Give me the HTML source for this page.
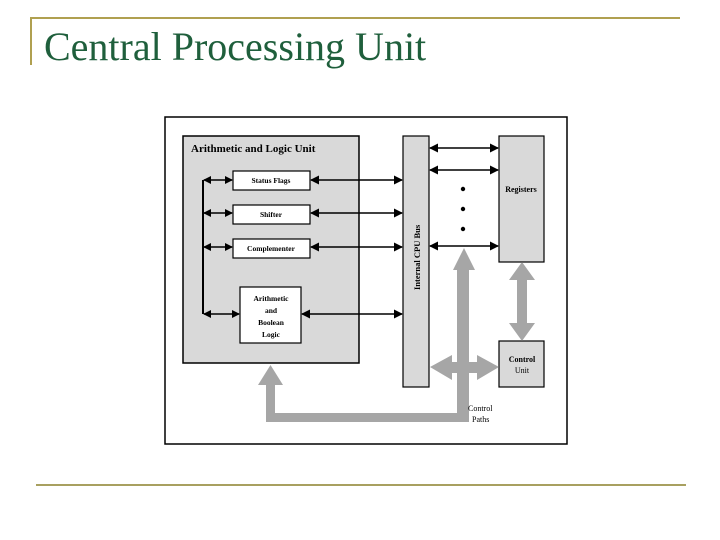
<!DOCTYPE html>
<html><head><style>
body{margin:0;width:720px;height:540px;background:#fff;overflow:hidden;position:relative;font-family:"Liberation Serif",serif}
.t{position:absolute;left:44px;top:23px;font-size:40px;color:#1f5f3c;white-space:nowrap}
</style></head><body>
<div style="position:absolute;left:30px;top:17px;width:650px;height:2px;background:#b0a050"></div>
<div style="position:absolute;left:30px;top:17px;width:2px;height:48px;background:#b0a050"></div>
<div style="position:absolute;left:36px;top:484px;width:650px;height:2px;background:#a8a060"></div>
<div class="t">Central Processing Unit</div>
<svg width="720" height="540" style="position:absolute;left:0;top:0" font-family="Liberation Serif,serif" font-weight="bold">
<defs>
<marker id="a" markerWidth="8" markerHeight="8" refX="7" refY="4" orient="auto-start-reverse" markerUnits="userSpaceOnUse"><path d="M0,0 L8,4 L0,8z" fill="#000"/></marker>
<marker id="b" markerWidth="9" markerHeight="9" refX="8" refY="4.5" orient="auto-start-reverse" markerUnits="userSpaceOnUse"><path d="M0,0 L9,4.5 L0,9z" fill="#000"/></marker>
</defs>
<rect x="165" y="117" width="402" height="327" fill="#fff" stroke="#000" stroke-width="1.5"/>
<rect x="183" y="136" width="176" height="227" fill="#d9d9d9" stroke="#000" stroke-width="1.5"/>
<text x="191" y="152" font-size="11">Arithmetic and Logic Unit</text>
<rect x="403" y="136" width="26" height="251" fill="#d9d9d9" stroke="#000" stroke-width="1.2"/>
<text transform="translate(420,290) rotate(-90)" font-size="8.5">Internal CPU Bus</text>
<rect x="499" y="136" width="45" height="126" fill="#d9d9d9" stroke="#000" stroke-width="1.2"/>
<text x="521" y="192" font-size="8" text-anchor="middle">Registers</text>
<rect x="499" y="341" width="45" height="46" fill="#d9d9d9" stroke="#000" stroke-width="1.2"/>
<text x="522" y="362" font-size="8" text-anchor="middle">Control</text>
<text x="522" y="373" font-size="8" text-anchor="middle" font-weight="normal">Unit</text>
<g stroke="#000" stroke-width="1.2" fill="#fff">
<rect x="233" y="171" width="77" height="19"/><rect x="233" y="205" width="77" height="19"/>
<rect x="233" y="239" width="77" height="19"/><rect x="240" y="287" width="61" height="56"/>
</g>
<g font-size="7.5" text-anchor="middle">
<text x="271" y="183">Status Flags</text><text x="271" y="217">Shifter</text><text x="271" y="251">Complementer</text>
<text x="271" y="301">Arithmetic</text><text x="271" y="313">and</text><text x="271" y="325">Boolean</text><text x="271" y="337">Logic</text>
</g>
<g stroke="#000" stroke-width="1.5">
<line x1="203" y1="180" x2="203" y2="314" stroke-width="2"/>
<line x1="204" y1="180" x2="232" y2="180" marker-start="url(#a)" marker-end="url(#a)"/>
<line x1="204" y1="213" x2="232" y2="213" marker-start="url(#a)" marker-end="url(#a)"/>
<line x1="204" y1="247" x2="232" y2="247" marker-start="url(#a)" marker-end="url(#a)"/>
<line x1="204" y1="314" x2="239" y2="314" marker-start="url(#a)" marker-end="url(#a)"/>
<line x1="311" y1="180" x2="402" y2="180" marker-start="url(#b)" marker-end="url(#b)"/>
<line x1="311" y1="213" x2="402" y2="213" marker-start="url(#b)" marker-end="url(#b)"/>
<line x1="311" y1="247" x2="402" y2="247" marker-start="url(#b)" marker-end="url(#b)"/>
<line x1="302" y1="314" x2="402" y2="314" marker-start="url(#b)" marker-end="url(#b)"/>
<line x1="430" y1="148" x2="498" y2="148" marker-start="url(#b)" marker-end="url(#b)"/>
<line x1="430" y1="170" x2="498" y2="170" marker-start="url(#b)" marker-end="url(#b)"/>
<line x1="430" y1="246" x2="498" y2="246" marker-start="url(#b)" marker-end="url(#b)"/>
</g>
<circle cx="463" cy="189" r="2.2"/><circle cx="463" cy="209" r="2.2"/><circle cx="463" cy="229" r="2.2"/>
<g fill="#a6a6a6">
<path d="M266,385 H258 L270.5,365 L283,385 H275 V413 H457 V270 H453 L464,248 L475,270 H469 V422 H266Z"/>
<path d="M430,367 L452,355 V362 H477 V355 L499,367 L477,380 V373 H452 V380Z"/>
<path d="M522,262 L535,280 H527 V323 H535 L522,341 L509,323 H517 V280 H509Z"/>
</g>
<text x="468" y="411" font-size="8" font-weight="normal">Control</text>
<text x="472" y="422" font-size="8" font-weight="normal">Paths</text>
</svg>
</body></html>
